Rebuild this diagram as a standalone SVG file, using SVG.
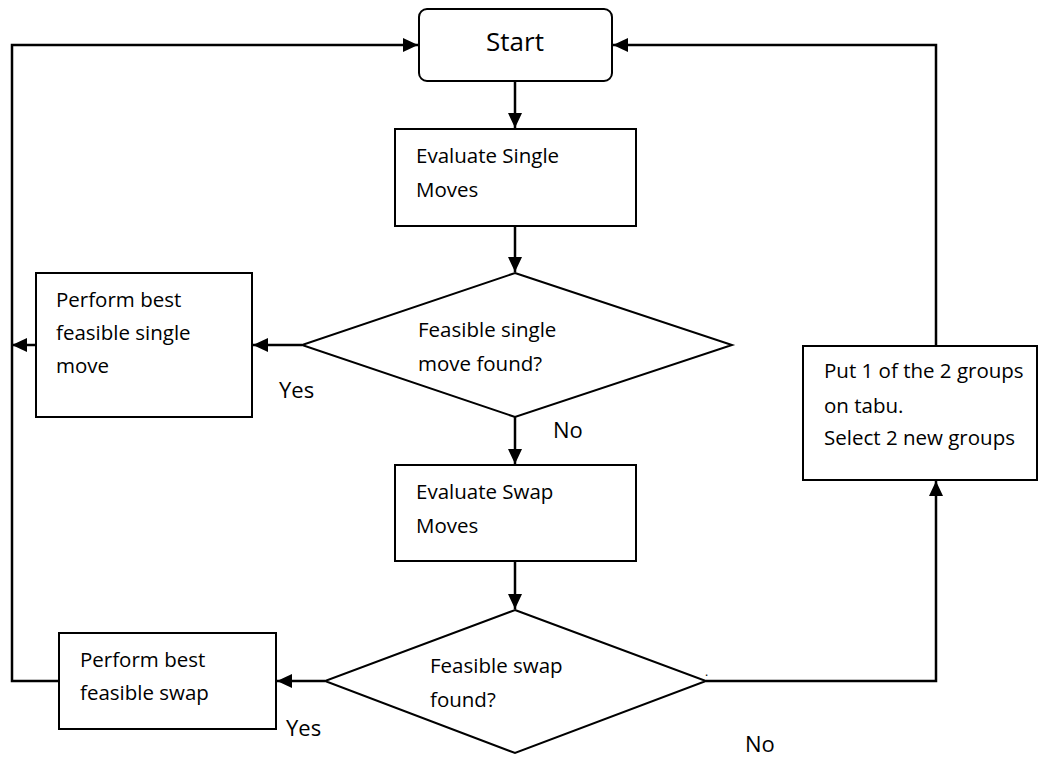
<svg xmlns="http://www.w3.org/2000/svg" width="1058" height="758" viewBox="0 0 1058 758">
<style>
.box{fill:#fff;stroke:#000;stroke-width:2}
.t{font-family:"Open Sans","Noto Sans",sans-serif;font-size:20.5px;fill:#000}
.lbl{font-family:"Open Sans","Noto Sans",sans-serif;font-size:22px;fill:#000}
.c{fill:none;stroke:#000;stroke-width:2.5}
</style>
<defs>
<marker id="ah" markerUnits="userSpaceOnUse" markerWidth="16" markerHeight="16" refX="15" refY="7" orient="auto">
<path d="M0,0 L15,7 L0,14 z" fill="#000"/>
</marker>
</defs>
<rect width="1058" height="758" fill="#fff"/>
<g id="connectors">
<path class="c" d="M515,81 V128" marker-end="url(#ah)"/>
<path class="c" d="M515,226 V272" marker-end="url(#ah)"/>
<path class="c" d="M302,345 H253" marker-end="url(#ah)"/>
<path class="c" d="M36,345 H12" marker-end="url(#ah)"/>
<path class="c" d="M515,417 V464" marker-end="url(#ah)"/>
<path class="c" d="M515,561 V609" marker-end="url(#ah)"/>
<path class="c" d="M325,681 H277" marker-end="url(#ah)"/>
<path class="c" d="M59,681 H12 V45 H418" marker-end="url(#ah)"/>
<path class="c" d="M706,681 H936 V481" marker-end="url(#ah)"/>
<path class="c" d="M936,346 V45 H613" marker-end="url(#ah)"/>
</g>
<g id="start">
<rect class="box" x="419" y="9" width="193" height="72" rx="8"/>
<text class="t" x="515" y="51" text-anchor="middle" style="font-size:26px">Start</text>
</g>
<g id="evalSingle">
<rect class="box" x="395" y="129" width="241" height="97"/>
<text class="t" x="416" y="163">Evaluate Single</text>
<text class="t" x="416" y="197">Moves</text>
</g>
<g id="decSingle">
<polygon class="box" points="515,273 732,345 515,417 302,345"/>
<text class="t" x="418" y="337">Feasible single</text>
<text class="t" x="418" y="371">move found?</text>
</g>
<g id="performSingle">
<rect class="box" x="36" y="273" width="216" height="144"/>
<text class="t" x="56" y="307">Perform best</text>
<text class="t" x="56" y="340">feasible single</text>
<text class="t" x="56" y="373">move</text>
</g>
<g id="evalSwap">
<rect class="box" x="395" y="465" width="241" height="96"/>
<text class="t" x="416" y="499">Evaluate Swap</text>
<text class="t" x="416" y="533">Moves</text>
</g>
<g id="decSwap">
<polygon class="box" points="515,610 706,681 515,753 325,681"/>
<text class="t" x="430" y="673">Feasible swap</text>
<text class="t" x="430" y="707">found?</text>
<text class="t" x="705" y="676" style="font-size:12px">.</text>
</g>
<g id="performSwap">
<rect class="box" x="59" y="633" width="217" height="96"/>
<text class="t" x="80" y="667">Perform best</text>
<text class="t" x="80" y="700">feasible swap</text>
</g>
<g id="tabu">
<rect class="box" x="803" y="346" width="234" height="134"/>
<text class="t" x="824" y="378">Put 1 of the 2 groups</text>
<text class="t" x="824" y="413">on tabu.</text>
<text class="t" x="824" y="445">Select 2 new groups</text>
</g>
<g id="labels">
<text class="lbl" x="279" y="398">Yes</text>
<text class="lbl" x="553" y="438">No</text>
<text class="lbl" x="286" y="736">Yes</text>
<text class="lbl" x="745" y="752">No</text>
</g>
</svg>
